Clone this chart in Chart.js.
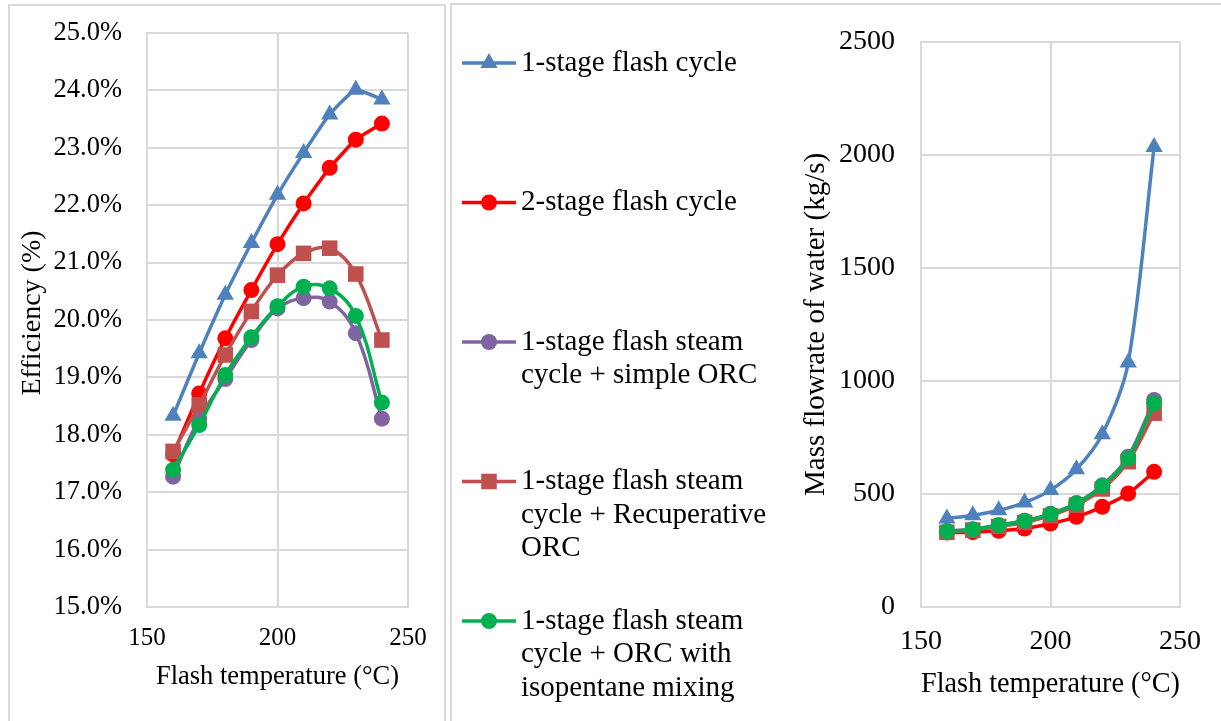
<!DOCTYPE html>
<html>
<head>
<meta charset="utf-8">
<script src="https://cdn.jsdelivr.net/npm/chart.js@4/dist/chart.umd.min.js"></script>
<style>
  body { margin: 0; background: #fff; width: 1221px; height: 721px; overflow: hidden; position: relative; }
  .panel { position: absolute; border: 2px solid #D9D9D9; box-sizing: border-box; }
  #leftPanel { left: 8px; top: 4px; width: 438px; height: 740px; }
  #rightPanel { left: 450px; top: 3px; width: 790px; height: 740px; }
  canvas { position: absolute; }
  /* canvases start a little above the page so the plot tops line up (tick padding adds to the top gap) */
  #effChart { left: 10px; top: -8px; }
  #flowChart { left: 452px; top: -1px; }
</style>
</head>
<body>
<div class="panel" id="leftPanel"></div>
<div class="panel" id="rightPanel"></div>
<canvas id="effChart" width="434" height="729"></canvas>
<canvas id="flowChart" width="769" height="722"></canvas>
<script>
// Flash temperature (°C)
const flashTemps = [160, 170, 180, 190, 200, 210, 220, 230, 240];

const seriesNames = [
    '1-stage flash cycle',
    '2-stage flash cycle',
    '1-stage flash steam cycle + simple ORC',
    '1-stage flash steam cycle + Recuperative ORC',
    '1-stage flash steam cycle + ORC with isopentane mixing',
];
// how the names wrap in the legend
const legendLines = [
    ['1-stage flash cycle'],
    ['2-stage flash cycle'],
    ['1-stage flash steam', 'cycle + simple ORC'],
    ['1-stage flash steam', 'cycle + Recuperative', 'ORC'],
    ['1-stage flash steam', 'cycle + ORC with', 'isopentane mixing'],
];

// Efficiency (%)
const effOneStage = [18.33, 19.42, 20.44, 21.34, 22.18, 22.91, 23.58, 24.01, 23.84];
const effTwoStage = [17.66, 18.72, 19.68, 20.52, 21.32, 22.03, 22.65, 23.14, 23.42];
const effSimpleOrc = [17.27, 18.28, 18.97, 19.65, 20.20, 20.38, 20.32, 19.77, 18.28];
const effRecupOrc = [17.71, 18.52, 19.39, 20.15, 20.78, 21.16, 21.25, 20.80, 19.65];
const effIsoOrc = [17.39, 18.17, 19.04, 19.70, 20.24, 20.58, 20.55, 20.07, 18.56];

// Mass flowrate of water (kg/s)
const flowOneStage = [391, 406, 428, 462, 517, 609, 764, 1081, 2035];
const flowTwoStage = [329, 331, 337, 347, 369, 399, 443, 502, 598];
const flowSimpleOrc = [336, 344, 362, 382, 412, 460, 538, 665, 916];
const flowRecupOrc = [331, 340, 356, 374, 404, 450, 522, 643, 857];
const flowIsoOrc = [335, 343, 362, 381, 411, 458, 535, 657, 901];

const effTicks = [15, 16, 17, 18, 19, 20, 21, 22, 23, 24, 25];
const flowTicks = [0, 500, 1000, 1500, 2000, 2500];
const tempTicks = [150, 200, 250];

const seriesColors = ['#4F81BD', '#FF0000', '#8064A2', '#C0504D', '#00B050'];
const markerStyles = ['triangle', 'circle', 'circle', 'rect', 'circle'];
const markerSizes = [10, 8, 8, 11, 8];

const gridColor = '#D9D9D9';
const serif = '"Liberation Serif", "Times New Roman", serif';
Chart.defaults.font.family = serif;
Chart.defaults.color = '#000';

function buildSets(valueLists, tensions) {
    return valueLists.map((vals, i) => ({
        label: seriesNames[i],
        data: flashTemps.map((t, j) => ({ x: t, y: vals[j] })),
        borderColor: seriesColors[i],
        backgroundColor: seriesColors[i],
        borderWidth: 3.5,
        pointStyle: markerStyles[i],
        pointRadius: markerSizes[i],
        pointBorderWidth: 0,
        tension: tensions[i],
        order: valueLists.length - i,
    }));
}

function tempAxis(opts) {
    return {
        type: 'linear',
        min: 150,
        max: 250,
        afterBuildTicks: axis => { axis.ticks = tempTicks.map(v => ({ value: v })); },
        grid: { color: gridColor, lineWidth: 2, drawTicks: false },
        border: { color: gridColor, width: 2 },
        ticks: { font: { size: opts.tickSize }, padding: opts.tickPad, maxRotation: 0 },
        title: {
            display: true,
            text: 'Flash temperature (°C)',
            font: { size: opts.titleSize },
            padding: { top: 0, bottom: opts.titlePad },
        },
        afterFit: axis => { axis.height = opts.height; },
    };
}

// Legend drawn in the space left of the flow chart
const sideLegend = {
    id: 'sideLegend',
    afterDraw(chart, args, opts) {
        const ctx = chart.ctx;
        ctx.save();
        chart.data.datasets.forEach((ds, i) => {
            const y = opts.top + i * opts.gap;
            ctx.strokeStyle = ds.borderColor;
            ctx.lineWidth = 3.5;
            ctx.beginPath();
            ctx.moveTo(opts.left, y);
            ctx.lineTo(opts.left + opts.lineLength, y);
            ctx.stroke();
            ctx.fillStyle = ds.backgroundColor;
            Chart.helpers.drawPoint(ctx, {
                pointStyle: ds.pointStyle,
                radius: ds.pointRadius,
                borderWidth: 0,
                rotation: 0,
            }, opts.left + opts.lineLength / 2, y);
            ctx.fillStyle = '#000';
            ctx.font = opts.fontSize + 'px ' + serif;
            ctx.textBaseline = 'middle';
            ctx.textAlign = 'left';
            legendLines[i].forEach((line, k) => {
                ctx.fillText(line, opts.left + opts.lineLength + 5, y + k * opts.lineHeight);
            });
        });
        ctx.restore();
    },
};

new Chart(document.getElementById('effChart'), {
    type: 'line',
    data: {
        datasets: buildSets([effOneStage, effTwoStage, effSimpleOrc, effRecupOrc, effIsoOrc], [0.15, 0.15, 0.4, 0.35, 0.4]),
    },
    options: {
        responsive: false,
        animation: false,
        devicePixelRatio: 1,
        layout: { padding: { left: 0, right: 36, top: 0, bottom: 0 } },
        plugins: { legend: { display: false }, tooltip: { enabled: false } },
        scales: {
            x: tempAxis({ tickSize: 25, tickPad: 16, titleSize: 26.5, titlePad: 28, height: 114 }),
            y: {
                min: 15,
                max: 25,
                afterBuildTicks: axis => { axis.ticks = effTicks.map(v => ({ value: v })); },
                grid: { color: gridColor, lineWidth: 2, drawTicks: false },
                border: { color: gridColor, width: 2 },
                ticks: { font: { size: 26.5 }, padding: 25, callback: v => v.toFixed(1) + '%' },
                title: {
                    display: true,
                    text: '\u2002Efficiency (%)',
                    font: { size: 28 },
                    padding: { top: 6, bottom: 0 },
                },
                afterFit: axis => { axis.width = 137; },
            },
        },
    },
});

new Chart(document.getElementById('flowChart'), {
    type: 'line',
    data: {
        datasets: buildSets([flowOneStage, flowTwoStage, flowSimpleOrc, flowRecupOrc, flowIsoOrc], [0.3, 0.3, 0.3, 0.3, 0.3]),
    },
    options: {
        responsive: false,
        animation: false,
        devicePixelRatio: 1,
        layout: { padding: { left: 339, right: 41, top: 0, bottom: 0 } },
        plugins: {
            legend: { display: false },
            tooltip: { enabled: false },
            sideLegend: { left: 10, top: 64, gap: 139.5, lineLength: 54, fontSize: 29, lineHeight: 33.5 },
        },
        scales: {
            x: tempAxis({ tickSize: 28, tickPad: 18, titleSize: 29.5, titlePad: 19, height: 114 }),
            y: {
                min: 0,
                max: 2500,
                afterBuildTicks: axis => { axis.ticks = flowTicks.map(v => ({ value: v })); },
                grid: { color: gridColor, lineWidth: 2, drawTicks: false },
                border: { color: gridColor, width: 2 },
                ticks: { font: { size: 28 }, padding: 26, callback: v => String(v) },
                title: {
                    display: true,
                    text: 'Mass flowrate of water (kg/s)',
                    font: { size: 29 },
                    padding: { top: 8, bottom: 0 },
                },
                afterFit: axis => { axis.width = 130; },
            },
        },
    },
    plugins: [sideLegend],
});
</script>
</body>
</html>
